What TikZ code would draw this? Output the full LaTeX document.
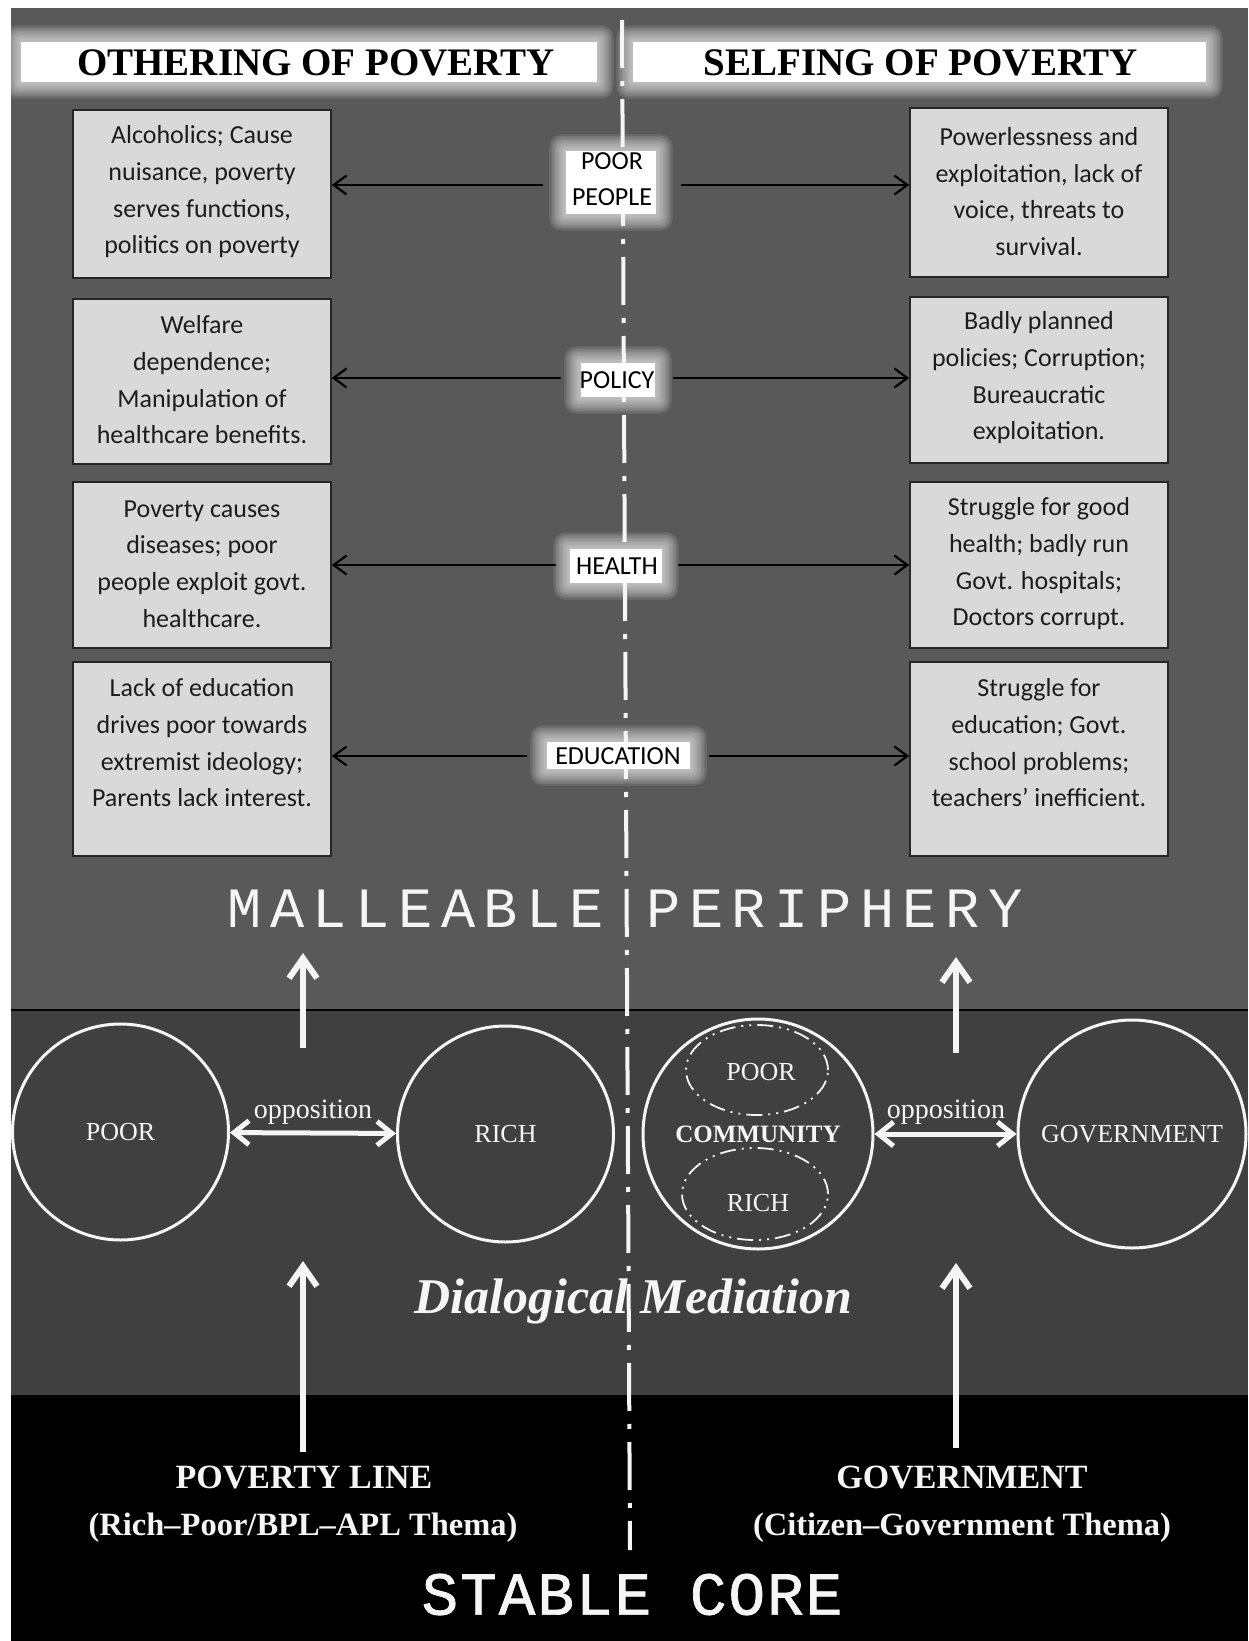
\documentclass[tikz,border=0pt]{standalone}
\usepackage{fontspec}
\usetikzlibrary{arrows.meta,shapes.geometric,calc}
\newfontfamily\calib{Carlito}
\newfontfamily\tnr{Liberation Serif}
\newfontfamily\monoA{Liberation Mono}[LetterSpace=15]
\newfontfamily\monoB{Liberation Mono}[LetterSpace=3.3,FakeBold=1.2]
\definecolor{topgray}{RGB}{89,89,89}
\definecolor{midgray}{RGB}{64,64,64}
\definecolor{boxfill}{RGB}{217,217,217}
\definecolor{boxline}{RGB}{38,38,38}
\definecolor{txtdark}{RGB}{28,28,28}
\definecolor{offwhite}{RGB}{245,245,245}
\pgfdeclarelayer{back}
\pgfdeclarelayer{glowlayer}
\pgfsetlayers{back,glowlayer,main}
\newcommand{\glowrect}[4]{%
  \foreach \k in {1,...,12}{%
    \fill[white,opacity=0.08,rounded corners=\k pt] ($(#1,#2)+(-\k*1.4pt,\k*1.4pt)$) rectangle ($(#3,#4)+(\k*1.4pt,-\k*1.4pt)$);}
  \fill[white] (#1,#2) rectangle (#3,#4);}
\tikzset{
  boxst/.style={draw=boxline, line width=1.5pt, fill=boxfill, inner sep=0pt},
  boxtxt/.style={font=\calib\fontsize{26}{36.7}\selectfont, text=txtdark, align=center, inner sep=0pt},
  labst/.style={font=\calib\fontsize{26}{36}\selectfont, text=black, align=center, inner sep=0pt},
  titlest/.style={font=\tnr\bfseries\fontsize{39}{41}\selectfont, text=black, inner sep=0pt},
  barr/.style={black, line width=2.2pt, -{Straight Barb[length=13pt,width=19pt]}},
  warr/.style={offwhite, line width=6pt, -{Straight Barb[length=20pt,width=28pt]}},
  dwarr/.style={offwhite, line width=5pt, {Straight Barb[length=15pt,width=24pt]}-{Straight Barb[length=15pt,width=24pt]}},
  circst/.style={circle, draw=offwhite, line width=3pt, inner sep=0pt, text=offwhite, font=\tnr\fontsize{26}{30}\selectfont},
  circtxt/.style={text=offwhite, inner sep=0pt, font=\tnr\fontsize{26}{30}\selectfont},
  ellst/.style={ellipse, draw=offwhite, line width=1.8pt, inner sep=0pt, dash pattern=on 16pt off 6pt on 2pt off 6pt on 2pt off 6pt},
  oppst/.style={text=offwhite, inner sep=0pt, font=\tnr\fontsize{28}{30}\selectfont},
  btitle/.style={text=offwhite, inner sep=0pt, anchor=base, font=\tnr\bfseries\fontsize{34}{36}\selectfont},
  bsub/.style={text=offwhite, inner sep=0pt, anchor=base, font=\tnr\bfseries\fontsize{32.5}{34}\selectfont},
  cline/.style={offwhite, line width=4pt, dash pattern=on 48pt off 13pt on 5pt off 13pt}
}
\begin{document}
\begin{tikzpicture}[x=1pt,y=-1pt]
\useasboundingbox (0,0) rectangle (1248,1641);
\begin{pgfonlayer}{back}
  \fill[white] (0,0) rectangle (1248,1641);
  \fill[topgray] (11,8) rectangle (1248,1010);
  \fill[midgray] (11,1010) rectangle (1248,1395);
  \fill[black] (11,1395) rectangle (1248,1641);
  \draw[black, line width=2pt] (11,1010) -- (1248,1010);
  \draw[cline] (622,20) -- (630,1550);
\end{pgfonlayer}
\begin{pgfonlayer}{glowlayer}
  \glowrect{21}{42}{597}{82}
  \glowrect{633}{42}{1206}{82}
  \glowrect{566}{151}{656}{214}
  \glowrect{581}{363}{655}{397}
  \glowrect{570}{549}{662}{583}
  \glowrect{547}{742}{690}{769}
\end{pgfonlayer}
% titles
\node[titlest] (tOth) at (316,63) {OTHERING OF POVERTY};
\node[titlest] (tSelf) at (921,63) {SELFING OF POVERTY};
% boxes
\node[boxst, minimum width=258pt, minimum height=168pt] (bL1) at (202,194) {};
\node[boxst, minimum width=258pt, minimum height=169pt] (bR1) at (1039,192.5) {};
\node[boxst, minimum width=258pt, minimum height=165pt] (bL2) at (202,381.5) {};
\node[boxst, minimum width=258pt, minimum height=166pt] (bR2) at (1039,380) {};
\node[boxst, minimum width=258pt, minimum height=166pt] (bL3) at (202,565) {};
\node[boxst, minimum width=258pt, minimum height=166pt] (bR3) at (1039,565) {};
\node[boxst, minimum width=258pt, minimum height=194pt] (bL4) at (202,759) {};
\node[boxst, minimum width=258pt, minimum height=194pt] (bR4) at (1039,759) {};
\node[boxtxt] (tL1) at (202,192) {Alcoholics; Cause\\nuisance, poverty\\serves functions,\\politics on poverty};
\node[boxtxt] (tR1) at (1039,191.5) {Powerlessness and\\exploitation, lack of\\voice, threats to\\survival.};
\node[boxtxt] (tL2) at (202,380) {Welfare\\dependence;\\Manipulation of\\healthcare benefits.};
\node[boxtxt] (tR2) at (1039,378) {Badly planned\\policies; Corruption;\\Bureaucratic\\exploitation.};
\node[boxtxt] (tL3) at (202,564) {Poverty causes\\diseases; poor\\people exploit govt.\\healthcare.};
\node[boxtxt] (tR3) at (1039,564) {Struggle for good\\health; badly run\\Govt. hospitals;\\Doctors corrupt.};
\node[boxtxt] (tL4) at (202,743) {Lack of education\\drives poor towards\\extremist ideology;\\Parents lack interest.};
\node[boxtxt] (tR4) at (1039,743) {Struggle for\\education; Govt.\\school problems;\\teachers’ inefficient.};
% labels
\node[labst, minimum width=138pt] (lPoor) at (612,179) {POOR\\PEOPLE};
\node[labst, minimum width=112pt] (lPol) at (617,380) {POLICY};
\node[labst, minimum width=122pt] (lHea) at (617,566) {HEALTH};
\node[labst, minimum width=182pt] (lEdu) at (618,756) {EDUCATION};
\draw[barr] (lPoor.west |- 0,185) -- (bL1.east |- 0,185);
\draw[barr] (lPoor.east |- 0,185) -- (bR1.west |- 0,185);
\draw[barr] (lPol.west |- 0,378) -- (bL2.east |- 0,378);
\draw[barr] (lPol.east |- 0,378) -- (bR2.west |- 0,378);
\draw[barr] (lHea.west |- 0,565) -- (bL3.east |- 0,565);
\draw[barr] (lHea.east |- 0,565) -- (bR3.west |- 0,565);
\draw[barr] (lEdu.west |- 0,756) -- (bL4.east |- 0,756);
\draw[barr] (lEdu.east |- 0,756) -- (bR4.west |- 0,756);
% malleable periphery
\node[font=\monoA\fontsize{57}{60}\selectfont, text=offwhite, inner sep=0pt] (mp) at (625,909) {MALLEABLE PERIPHERY};
% circles
\node[circst, minimum size=216pt] (cPoor) at (120.5,1132) {POOR};
\node[circst, minimum size=216pt] (cRich) at (505.5,1134) {RICH};
\node[circst, minimum size=230pt, font=\tnr\bfseries\fontsize{25}{28}\selectfont] (cComm) at (758,1134) {COMMUNITY};
\node[circst, minimum size=228pt] (cGov) at (1132,1134) {GOVERNMENT};
\node[ellst, minimum width=142pt, minimum height=90pt] (ePoor) at (757,1070) {};
\node[circtxt] (tPoorIn) at (761,1072) {POOR};
\node[ellst, minimum width=146pt, minimum height=92pt] (eRich) at (755,1194) {};
\node[circtxt] (tRichIn) at (758,1203) {RICH};
\draw[dwarr] (cPoor) -- (cRich);
\draw[dwarr] (cComm) -- (cGov);
\node[oppst] (op1) at (313,1112) {opposition};
\node[oppst] (op2) at (946,1112) {opposition};
% vertical arrows
\coordinate (u1s) at (303,1048); \coordinate (u1e) at (303,953);
\coordinate (u2s) at (956,1053); \coordinate (u2e) at (956,957);
\coordinate (u3s) at (303,1452); \coordinate (u3e) at (303,1261);
\coordinate (u4s) at (956,1448); \coordinate (u4e) at (956,1263);
\draw[warr] (u1s) -- (u1e);
\draw[warr] (u2s) -- (u2e);
\draw[warr] (u3s) -- (u3e);
\draw[warr] (u4s) -- (u4e);
% dialogical mediation
\node[font=\tnr\bfseries\itshape\fontsize{50}{52}\selectfont, text=offwhite, anchor=base, inner sep=0pt] (dm) at (633,1313) {Dialogical Mediation};
% bottom
\node[btitle] (pl) at (304,1488) {POVERTY LINE};
\node[bsub] (plT) at (303,1535) {(Rich–Poor/BPL–APL Thema)};
\node[btitle] (gv) at (962,1488) {GOVERNMENT};
\node[bsub] (gvT) at (962,1535) {(Citizen–Government Thema)};
\node[font=\monoB\fontsize{61}{64}\selectfont, text=offwhite, inner sep=0pt] (sc) at (632,1594.5) {STABLE CORE};
\end{tikzpicture}
\end{document}
